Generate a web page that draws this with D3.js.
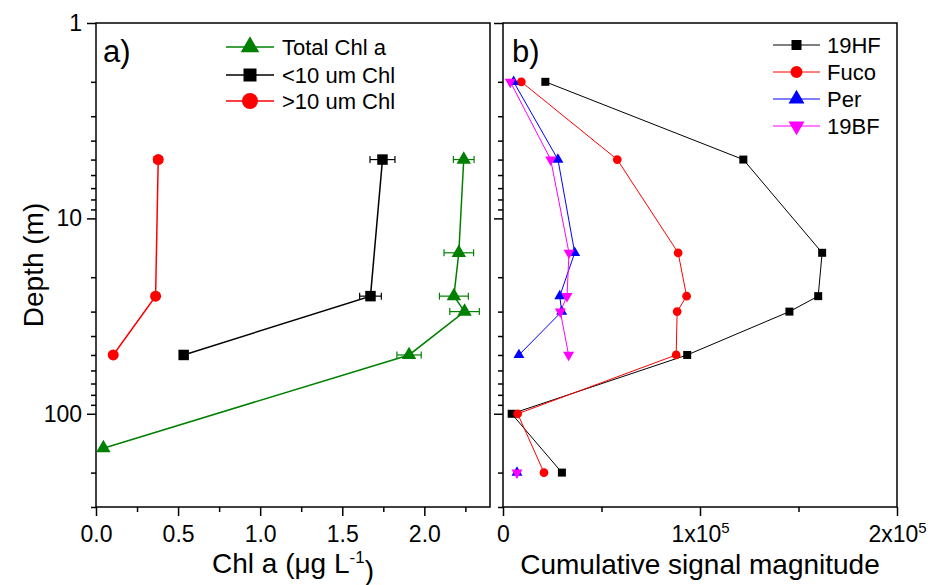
<!DOCTYPE html>
<html>
<head>
<meta charset="utf-8">
<script src="https://cdn.jsdelivr.net/npm/d3@7"></script>
<style>
  body { margin: 0; background: #fff; }
  text { font-family: Arial, "Liberation Sans", sans-serif; fill: #000; }
</style>
</head>
<body>
<div id="plot"></div>
<script>
// Panel a) data - chlorophyll profiles
const depthsA = [5, 15, 25, 30, 50, 150];
const totalChl = [2.24, 2.21, 2.18, 2.245, 1.907, 0.045];
const totalErr = [0.063, 0.09, 0.088, 0.09, 0.074, 0];
const sizeDepths = [5, 25, 50];
const smallChl = [1.745, 1.672, 0.534];
const smallErr = [0.076, 0.066, 0];
const largeChl = [0.379, 0.363, 0.105];
const largeErr = [0.025, 0.02, 0];

// Panel b) data - cumulative pigment signal
const depthsB = [2, 5, 15, 25, 30, 50, 100, 200];
const hf19 = [21500, 122000, 162000, 160000, 145400, 93500, 4400, 29900];
const fuco = [9300, 58000, 88900, 93200, 88400, 87900, 7450, 20800];
const per = [5400, 27900, 36400, 28800, 29800, 8100, null, 7100];
const bf19 = [3700, 24200, 33500, 32500, 29100, 33300, null, 7100];

const yMajor = [1, 10, 100];
const xTicksA = [0, 0.5, 1.0, 1.5, 2.0];
const xTicksB = [0, 1e5, 2e5];

const w = 931, h = 585;
const yTop = 23, yBottom = 507;
const panelA = { left: 96, right: 490 };
const panelB = { left: 503, right: 897 };

const svg = d3.select("#plot").append("svg")
  .attr("width", w).attr("height", h);

// Scales
const y = d3.scaleLog().domain([1, 300]).range([yTop, yBottom]);
const xA = d3.scaleLinear().domain([0, 2.4]).range([panelA.left, panelA.right]);
const xB = d3.scaleLinear().domain([0, 2e5]).range([panelB.left, panelB.right]);

const minorY = [];
[1, 10, 100].forEach(dec => {
  for (let k = 2; k <= 9; k++) if (dec * k <= 300) minorY.push(dec * k);
});

function drawFrame(p, xScale, majors, minors, fmt, showYLabels) {
  // minor y ticks
  svg.append("g").attr("transform", `translate(${p.left},0)`)
    .call(d3.axisLeft(y).tickValues(minorY).tickSize(5).tickFormat(""))
    .call(g => g.select(".domain").remove())
    .selectAll("line").attr("stroke-width", 1.5);
  const ya = svg.append("g").attr("transform", `translate(${p.left},0)`)
    .call(d3.axisLeft(y).tickValues(yMajor).tickSize(9).tickPadding(5)
      .tickFormat(showYLabels ? d3.format("d") : ""));
  ya.select(".domain").remove();
  ya.selectAll("line").attr("stroke-width", 1.5);
  ya.selectAll("text").style("font-size", "23px").attr("font-family", null);

  // x axis minor ticks
  svg.append("g").attr("transform", `translate(0,${yBottom})`)
    .call(d3.axisBottom(xScale).tickValues(minors).tickSize(5).tickFormat(""))
    .call(g => g.select(".domain").remove())
    .selectAll("line").attr("stroke-width", 1.5);
  const xa = svg.append("g").attr("transform", `translate(0,${yBottom})`)
    .call(d3.axisBottom(xScale).tickValues(majors).tickSize(9).tickPadding(10).tickFormat(""));
  xa.select(".domain").remove();
  xa.selectAll("line").attr("stroke-width", 1.5);
  xa.selectAll(".tick").append("text")
    .attr("y", 19).attr("dy", "0.71em").attr("text-anchor", "middle")
    .style("font-size", "23px")
    .each(function(d) { fmt(d3.select(this), d); });

  // box
  svg.append("rect")
    .attr("x", p.left).attr("y", yTop)
    .attr("width", p.right - p.left).attr("height", yBottom - yTop)
    .attr("fill", "none").attr("stroke", "#000").attr("stroke-width", 1.5);
}

drawFrame(panelA, xA, xTicksA, [0.25, 0.75, 1.25, 1.75, 2.25],
  (t, d) => t.text(d3.format(".1f")(d)), true);
drawFrame(panelB, xB, xTicksB, [0.5e5, 1.5e5],
  (t, d) => {
    if (d === 0) { t.text("0"); return; }
    t.text(`${d / 1e5}x10`);
    t.append("tspan").attr("dy", "-0.6em").style("font-size", "15px").text("5");
  }, false);

// Axis titles
svg.append("text")
  .attr("transform", `translate(43,${(yTop + yBottom) / 2}) rotate(-90)`)
  .attr("text-anchor", "middle").style("font-size", "28px")
  .text("Depth (m)");

const tA = svg.append("text")
  .attr("x", (panelA.left + panelA.right) / 2).attr("y", 573)
  .attr("text-anchor", "middle").style("font-size", "28px")
  .text("Chl a (μg L");
tA.append("tspan").attr("dy", "-0.6em").style("font-size", "17px").text("-1");
tA.append("tspan").attr("dy", "0.6em").text(")");

svg.append("text")
  .attr("x", (panelB.left + panelB.right) / 2).attr("y", 574)
  .attr("text-anchor", "middle").style("font-size", "28px")
  .text("Cumulative signal magnitude");

// Panel letters
svg.append("text").attr("x", 103).attr("y", 62).style("font-size", "31px").text("a)");
svg.append("text").attr("x", 512).attr("y", 62).style("font-size", "31px").text("b)");

// helpers
const sym = (type, size) => d3.symbol().type(type).size(size)();
function series(xScale, depths, vals, color, width, shape, size, rot) {
  const pts = depths.map((d, i) => ({ d, v: vals[i] }));
  const line = d3.line()
    .defined(p => p.v != null)
    .x(p => xScale(p.v)).y(p => y(p.d));
  svg.append("path").datum(pts)
    .attr("fill", "none").attr("stroke", color).attr("stroke-width", width)
    .attr("d", line);
  svg.append("g").selectAll("path")
    .data(pts.filter(p => p.v != null))
    .enter().append("path")
    .attr("d", sym(shape, size))
    .attr("fill", color)
    .attr("transform", p => `translate(${xScale(p.v)},${y(p.d)}) rotate(${rot || 0})`);
}
function errBars(xScale, depths, vals, errs, color) {
  const g = svg.append("g").attr("stroke", color).attr("stroke-width", 1.2);
  depths.forEach((d, i) => {
    if (!errs[i]) return;
    const yy = y(d), x0 = xScale(vals[i] - errs[i]), x1 = xScale(vals[i] + errs[i]);
    g.append("line").attr("x1", x0).attr("x2", x1).attr("y1", yy).attr("y2", yy);
    g.append("line").attr("x1", x0).attr("x2", x0).attr("y1", yy - 3.5).attr("y2", yy + 3.5);
    g.append("line").attr("x1", x1).attr("x2", x1).attr("y1", yy - 3.5).attr("y2", yy + 3.5);
  });
}

// Panel a)
errBars(xA, depthsA, totalChl, totalErr, "#008000");
errBars(xA, sizeDepths, smallChl, smallErr, "#000");
errBars(xA, sizeDepths, largeChl, largeErr, "#ff0000");
series(xA, depthsA, totalChl, "#008000", 1.5, d3.symbolTriangle, 90);
series(xA, sizeDepths, smallChl, "#000", 1.5, d3.symbolSquare, 110);
series(xA, sizeDepths, largeChl, "#ff0000", 1.5, d3.symbolCircle, 95);

// Panel b)
series(xB, depthsB, hf19, "#000", 1, d3.symbolSquare, 64);
series(xB, depthsB, fuco, "#ff0000", 1, d3.symbolCircle, 60);
series(xB, depthsB, per, "#0000ff", 1, d3.symbolTriangle, 52);
series(xB, depthsB, bf19, "#ff00ff", 1, d3.symbolTriangle, 52, 180);

// Legends
function legend(x0, x1, tx, rows) {
  rows.forEach(r => {
    svg.append("line").attr("x1", x0).attr("x2", x1).attr("y1", r.y).attr("y2", r.y)
      .attr("stroke", r.color).attr("stroke-width", r.width);
    svg.append("path").attr("d", sym(r.shape, r.size)).attr("fill", r.color)
      .attr("transform", `translate(${(x0 + x1) / 2},${r.y}) rotate(${r.rot || 0})`);
    svg.append("text").attr("x", tx).attr("y", r.y).attr("dy", "0.36em")
      .style("font-size", "22px").text(r.label);
  });
}
legend(226, 274, 282, [
  { y: 47, label: "Total Chl a", color: "#008000", shape: d3.symbolTriangle, size: 150, width: 1.5 },
  { y: 75, label: "<10 um Chl", color: "#000", shape: d3.symbolSquare, size: 169, width: 1.5 },
  { y: 101, label: ">10 um Chl", color: "#ff0000", shape: d3.symbolCircle, size: 200, width: 1.5 }
]);
legend(773, 820, 827, [
  { y: 45, label: "19HF", color: "#000", shape: d3.symbolSquare, size: 100, width: 1 },
  { y: 72, label: "Fuco", color: "#ff0000", shape: d3.symbolCircle, size: 113, width: 1 },
  { y: 99, label: "Per", color: "#0000ff", shape: d3.symbolTriangle, size: 110, width: 1 },
  { y: 126, label: "19BF", color: "#ff00ff", shape: d3.symbolTriangle, size: 110, width: 1, rot: 180 }
]);
</script>
</body>
</html>
